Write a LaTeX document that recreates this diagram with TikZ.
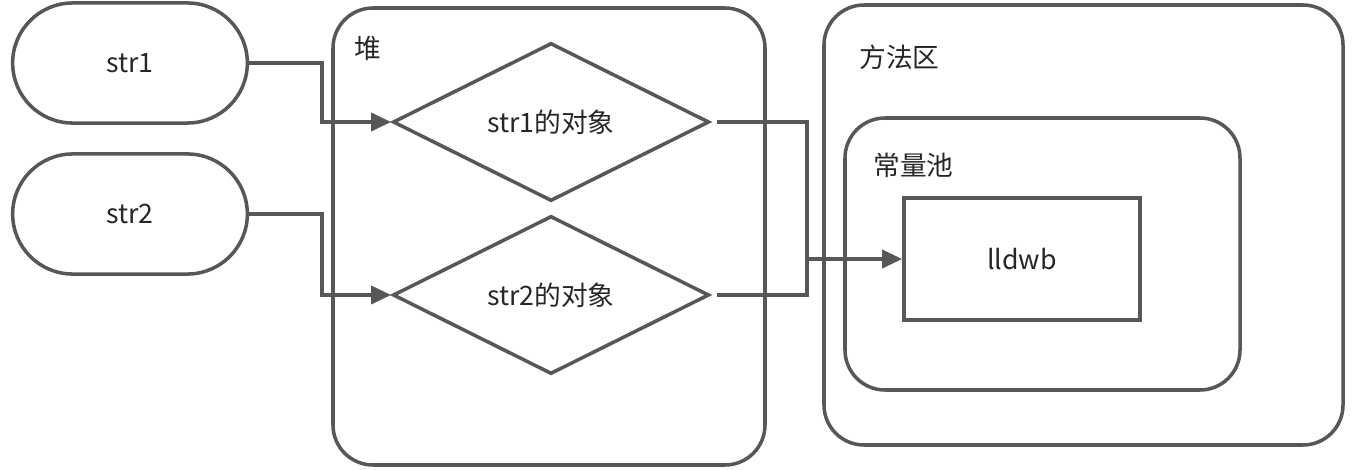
\documentclass[tikz,border=0pt]{standalone}
\usepackage{fontspec}
\setmainfont{Noto Sans CJK SC}
\usetikzlibrary{shapes.misc,shapes.geometric,arrows.meta}
\definecolor{linegray}{HTML}{575757}
\tikzset{
  ref/.style={rounded rectangle,draw=linegray,line width=1pt,minimum width=2.58cm,minimum height=1.2cm},
  obj/.style={diamond,draw=linegray,line width=1pt,minimum width=3.16cm,minimum height=1.58cm,inner sep=0pt},
  area/.style={draw=linegray,line width=1pt,rounded corners=4mm},
  conn/.style={draw=linegray,line width=1pt},
  arr/.style={conn,-{Triangle[length=2mm,width=1.8mm]}},
}
\begin{document}
\begin{tikzpicture}[x=0.01cm,y=-0.01cm,font=\fontsize{7.6pt}{9pt}\selectfont,text=black!85]
        \useasboundingbox (0,0) rectangle (1354,470);
        % areas
        \draw[area] (333,8) rectangle (765,465);
        \node[anchor=west] (heaplbl) at (342,48) {堆};
        \draw[area] (824,5) rectangle (1343,445);
        \node[anchor=west] (methlbl) at (847,57) {方法区};
        \draw[area] (845,118) rectangle (1240,390);
        \node[anchor=west] (poollbl) at (861,165) {常量池};

        % references
        \node[ref] (s1) at (130,63) {str1};
        \node[ref] (s2) at (130,214) {str2};
        % objects
        \node[obj] (o1) at (551,122) {str1的对象};
        \node[obj] (o2) at (551,295) {str2的对象};
        % string value
        \node[draw=linegray,line width=1pt,minimum width=2.36cm,minimum height=1.22cm] (val) at (1022,259) {lldwb};

        % connectors
        \draw[arr] (s1.east) -- ++(73,0) |- (o1.west);
        \draw[arr] (s2.east) -- ++(73,0) |- (o2.west);
        \coordinate (mid) at (807,259);
        \draw[conn,shorten <=0.6mm] (o1.east) -| (mid);
        \draw[conn,shorten <=0.6mm] (o2.east) -| (mid);
        \draw[arr] (mid) -- (val.west);
    \end{tikzpicture}
\end{document}
